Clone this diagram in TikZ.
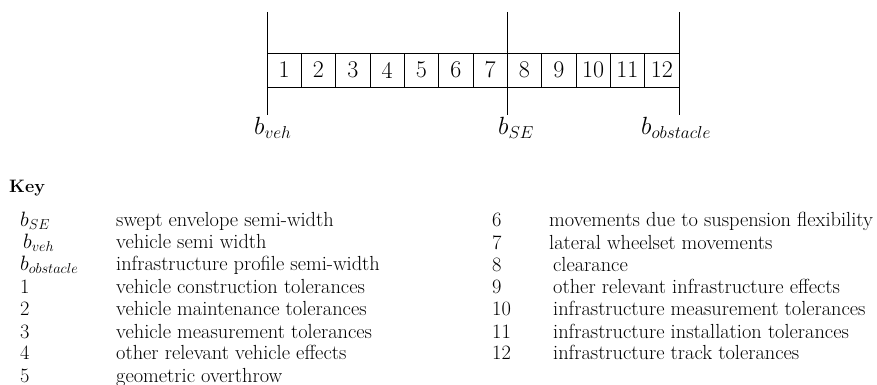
\documentclass[tikz,border=0pt]{standalone}
\begin{document}
\begin{tikzpicture}[x=1pt,y=-1pt]
	\tikzstyle{tolcell} = [draw,line width=0.8pt,minimum width=34.33pt,minimum height=34pt,inner sep=0pt,font=\fontsize{24}{28}\selectfont]
	\tikzstyle{bline} = [line width=0.9pt]
	\tikzstyle{blabel} = [anchor=west,inner sep=0pt,font=\fontsize{23.5}{28}\selectfont]
	\tikzstyle{keyitem} = [anchor=base west,inner sep=0pt,font=\fontsize{20.4}{24}\selectfont]
	\tikzstyle{keymath} = [keyitem,font=\fontsize{21.5}{24}\selectfont]

	\def\incx{34.33}
	\def\xo{267}
	\def\yrow{70}

	\useasboundingbox (0,0) rectangle (877,385);

	% CELLS %
	\node[tolcell] (c1) at (\xo+0.5*\incx,\yrow) {1};
	\node[tolcell] (c2) at (\xo+1.5*\incx,\yrow) {2};
	\node[tolcell] (c3) at (\xo+2.5*\incx,\yrow) {3};
	\node[tolcell] (c4) at (\xo+3.5*\incx,\yrow) {4};
	\node[tolcell] (c5) at (\xo+4.5*\incx,\yrow) {5};
	\node[tolcell] (c6) at (\xo+5.5*\incx,\yrow) {6};
	\node[tolcell] (c7) at (\xo+6.5*\incx,\yrow) {7};
	\node[tolcell] (c8) at (\xo+7.5*\incx,\yrow) {8};
	\node[tolcell] (c9) at (\xo+8.5*\incx,\yrow) {9};
	\node[tolcell] (c10) at (\xo+9.5*\incx,\yrow) {10};
	\node[tolcell] (c11) at (\xo+10.5*\incx,\yrow) {11};
	\node[tolcell] (c12) at (\xo+11.5*\incx,\yrow) {12};

	% BOUNDARIES %
	\coordinate (vehtop) at (\xo,12);
	\coordinate (vehbot) at (\xo,115);
	\coordinate (setop) at (\xo+7*\incx,12);
	\coordinate (sebot) at (\xo+7*\incx,115);
	\coordinate (obstop) at (\xo+12*\incx,12);
	\coordinate (obsbot) at (\xo+12*\incx,115);
	\draw[bline] (vehtop) -- (vehbot);
	\draw[bline] (setop) -- (sebot);
	\draw[bline] (obstop) -- (obsbot);

	\node[blabel] (bveh) at (254,128) {$b_{veh}$};
	\node[blabel] (bse) at (498,128) {$b_{SE}$};
	\node[blabel] (bobs) at (641,128) {$b_{obstacle}$};

	% KEY %
	\node[keyitem,font=\fontsize{18}{22}\selectfont\bfseries] (key) at (9,192) {Key};

	%left column
	\node[keymath] (ksym1) at (20,226) {$b_{SE}$};
	\node[keymath] (ksym2) at (23,248) {$b_{veh}$};
	\node[keymath] (ksym3) at (20,270) {$b_{obstacle}$};
	\node[keyitem] (ksym4) at (20,293) {1};
	\node[keyitem] (ksym5) at (20,315) {2};
	\node[keyitem] (ksym6) at (20,338) {3};
	\node[keyitem] (ksym7) at (20,359) {4};
	\node[keyitem] (ksym8) at (20,382) {5};
	\node[keyitem] (ktxt1) at (116,226) {swept envelope semi-width};
	\node[keyitem] (ktxt2) at (116,248) {vehicle semi width};
	\node[keyitem] (ktxt3) at (116,270) {infrastructure profile semi-width};
	\node[keyitem] (ktxt4) at (116,293) {vehicle construction tolerances};
	\node[keyitem] (ktxt5) at (116,315) {vehicle maintenance tolerances};
	\node[keyitem] (ktxt6) at (116,338) {vehicle measurement tolerances};
	\node[keyitem] (ktxt7) at (116,359) {other relevant vehicle effects};
	\node[keyitem] (ktxt8) at (116,382) {geometric overthrow};

	%right column
	\node[keyitem] (ksym9) at (492,226) {6};
	\node[keyitem] (ksym10) at (492,249) {7};
	\node[keyitem] (ksym11) at (492,271) {8};
	\node[keyitem] (ksym12) at (492,293) {9};
	\node[keyitem] (ksym13) at (492,315) {10};
	\node[keyitem] (ksym14) at (492,338) {11};
	\node[keyitem] (ksym15) at (492,359) {12};
	\node[keyitem] (ktxt9) at (549,226) {movements due to suspension flexibility};
	\node[keyitem] (ktxt10) at (549,249) {lateral wheelset movements};
	\node[keyitem] (ktxt11) at (553,271) {clearance};
	\node[keyitem] (ktxt12) at (553,293) {other relevant infrastructure effects};
	\node[keyitem] (ktxt13) at (553,315) {infrastructure measurement tolerances};
	\node[keyitem] (ktxt14) at (553,338) {infrastructure installation tolerances};
	\node[keyitem] (ktxt15) at (553,359) {infrastructure track tolerances};
\end{tikzpicture}
\end{document}
